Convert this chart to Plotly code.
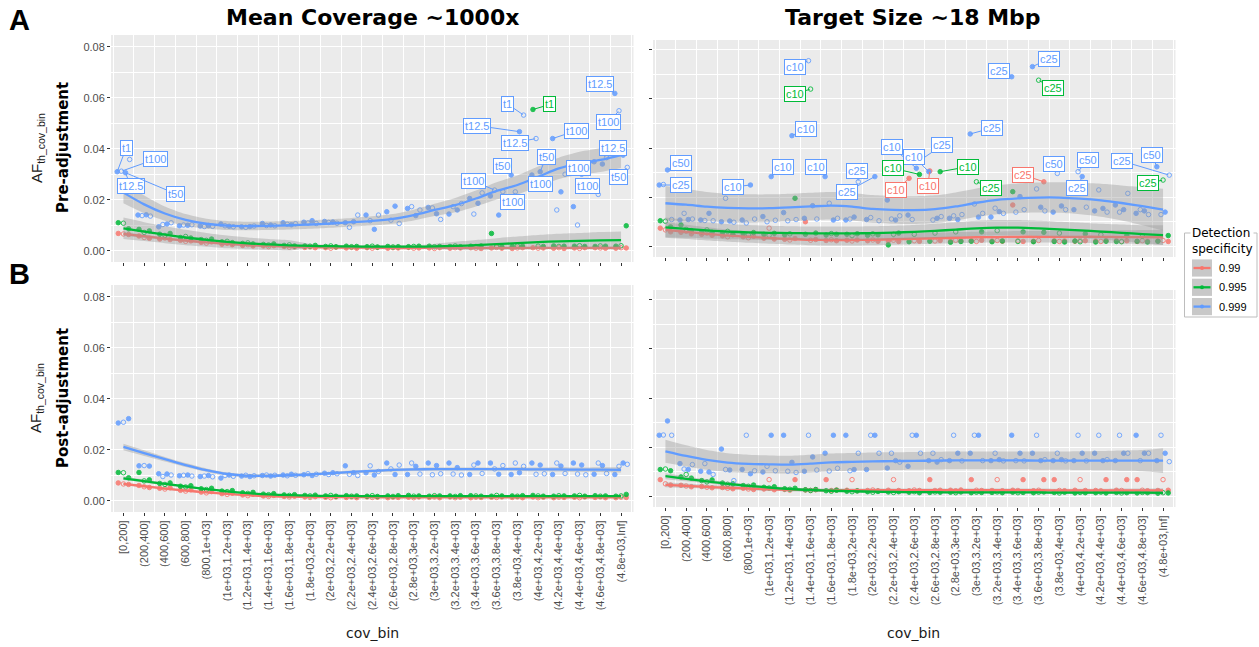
import plotly.graph_objects as go

# ---------------------------------------------------------------- data
COV_BINS = ["[0,200]", "(200,400]", "(400,600]", "(600,800]", "(800,1e+03]",
            "(1e+03,1.2e+03]", "(1.2e+03,1.4e+03]", "(1.4e+03,1.6e+03]", "(1.6e+03,1.8e+03]", "(1.8e+03,2e+03]",
            "(2e+03,2.2e+03]", "(2.2e+03,2.4e+03]", "(2.4e+03,2.6e+03]", "(2.6e+03,2.8e+03]", "(2.8e+03,3e+03]",
            "(3e+03,3.2e+03]", "(3.2e+03,3.4e+03]", "(3.4e+03,3.6e+03]", "(3.6e+03,3.8e+03]", "(3.8e+03,4e+03]",
            "(4e+03,4.2e+03]", "(4.2e+03,4.4e+03]", "(4.4e+03,4.6e+03]", "(4.6e+03,4.8e+03]", "(4.8e+03,Inf]"]
SPECIFICITY = ["0.99", "0.995", "0.999"]
COLUMN_TITLES = ["Mean Coverage ~1000x", "Target Size ~18 Mbp"]
ROW_TITLES = ["Pre-adjustment", "Post-adjustment"]

# --- Mean coverage ~1000x, pre-adjustment: AF threshold per bin (replicates)
PRE_COV_PTS_099 = [
    [0.0068, 0.0066, 0.0064], [0.0058, 0.0052, 0.0049], [0.0046, 0.0050, 0.0044], [0.0041, 0.0037, 0.0039],
    [0.0033, 0.0030, 0.0035], [0.0026, 0.0029, 0.0024], [0.0021, 0.0024, 0.0019], [0.0019, 0.0016, 0.0020],
    [0.0017, 0.0014, 0.0015], [0.0013, 0.0015, 0.0012], [0.0012, 0.0010, 0.0014], [0.0011, 0.0013, 0.0010],
    [0.0012, 0.0010, 0.0013], [0.0010, 0.0012, 0.0011], [0.0013, 0.0010, 0.0011], [0.0011, 0.0009, 0.0012],
    [0.0010, 0.0012, 0.0011], [0.0012, 0.0010, 0.0009], [0.0011, 0.0013, 0.0010], [0.0009, 0.0011, 0.0012],
    [0.0012, 0.0010, 0.0011], [0.0010, 0.0012, 0.0009], [0.0011, 0.0009, 0.0012], [0.0012, 0.0011, 0.0010],
    [0.0010, 0.0012, 0.0011]]
PRE_COV_PTS_0995 = [
    [0.0110, 0.0108, 0.0086], [0.0084, 0.0072, 0.0078], [0.0065, 0.0060, 0.0068], [0.0052, 0.0056, 0.0050],
    [0.0044, 0.0041, 0.0046], [0.0035, 0.0037, 0.0032], [0.0029, 0.0031, 0.0027], [0.0025, 0.0023, 0.0027],
    [0.0021, 0.0023, 0.0019], [0.0019, 0.0018, 0.0021], [0.0017, 0.0019, 0.0016], [0.0018, 0.0016, 0.0017],
    [0.0016, 0.0018, 0.0015], [0.0017, 0.0015, 0.0016], [0.0016, 0.0017, 0.0018], [0.0018, 0.0016, 0.0017],
    [0.0017, 0.0019, 0.0016], [0.0018, 0.0017, 0.0019], [0.0068, 0.0018, 0.0016], [0.0017, 0.0019, 0.0018],
    [0.0554, 0.0018, 0.0017], [0.0019, 0.0017, 0.0018], [0.0018, 0.0020, 0.0017], [0.0017, 0.0019, 0.0018],
    [0.0018, 0.0020, 0.0098]]
PRE_COV_PTS_0999 = [
    [0.0310, 0.0312, 0.0306, 0.0358], [0.0140, 0.0138, 0.0141, 0.0136], [0.0094, 0.0103, 0.0105, 0.0110],
    [0.0098, 0.0101, 0.0100, 0.0102], [0.0097, 0.0095, 0.0099, 0.0096], [0.0105, 0.0098, 0.0096, 0.0094],
    [0.0094, 0.0092, 0.0095, 0.0097], [0.0107, 0.0099, 0.0101, 0.0098], [0.0110, 0.0104, 0.0102, 0.0106],
    [0.0112, 0.0109, 0.0118, 0.0107], [0.0115, 0.0111, 0.0113, 0.0108], [0.0110, 0.0092, 0.0114, 0.0140],
    [0.0140, 0.0118, 0.0084, 0.0140], [0.0153, 0.0120, 0.0175, 0.0107], [0.0166, 0.0173, 0.0138, 0.0160],
    [0.0170, 0.0168, 0.0145, 0.0123], [0.0144, 0.0173, 0.0160, 0.0185], [0.0205, 0.0144, 0.0186, 0.0227],
    [0.0215, 0.0238, 0.0140, 0.0232], [0.0297, 0.0231, 0.0467, 0.0532], [0.0297, 0.0440, 0.0310, 0.0275],
    [0.0440, 0.0160, 0.0231, 0.0300], [0.0173, 0.0101, 0.0300, 0.0335], [0.0349, 0.0221, 0.0340, 0.0365],
    [0.0617, 0.0549, 0.0375, 0.0327]]
PRE_COV_FIT_099 = [0.0066, 0.0057, 0.0048, 0.0040, 0.0033, 0.0027, 0.0022, 0.0019, 0.0016, 0.0014, 0.0013, 0.0012,
                   0.0012, 0.0011, 0.0011, 0.0011, 0.0011, 0.0011, 0.0011, 0.0011, 0.0011, 0.0011, 0.0011, 0.0011, 0.0011]
PRE_COV_FIT_0995 = [0.0088, 0.0075, 0.0063, 0.0052, 0.0043, 0.0035, 0.0029, 0.0025, 0.0021, 0.0019, 0.0018, 0.0017,
                    0.0016, 0.0016, 0.0016, 0.0017, 0.0019, 0.0022, 0.0026, 0.0030, 0.0034, 0.0037, 0.0039, 0.0041, 0.0042]
PRE_COV_FIT_0999 = [0.0228, 0.0182, 0.0146, 0.0121, 0.0106, 0.0099, 0.0097, 0.0098, 0.0100, 0.0103, 0.0107, 0.0112,
                    0.0117, 0.0125, 0.0140, 0.0160, 0.0179, 0.0205, 0.0235, 0.0258, 0.0290, 0.0323, 0.0343, 0.0356, 0.0375]
PRE_COV_SE_099 = [0.0007, 0.0006, 0.0005, 0.0005, 0.0004, 0.0004, 0.0003, 0.0003, 0.0003, 0.0003, 0.0003, 0.0003,
                  0.0003, 0.0003, 0.0003, 0.0003, 0.0003, 0.0003, 0.0003, 0.0004, 0.0004, 0.0004, 0.0005, 0.0005, 0.0006]
PRE_COV_SE_0995 = [0.0042, 0.0037, 0.0033, 0.0030, 0.0027, 0.0025, 0.0023, 0.0021, 0.0020, 0.0008, 0.0006, 0.0006,
                   0.0006, 0.0006, 0.0006, 0.0010, 0.0016, 0.0020, 0.0023, 0.0026, 0.0028, 0.0030, 0.0031, 0.0033, 0.0034]
PRE_COV_SE_0999 = [0.0042, 0.0035, 0.0028, 0.0023, 0.0020, 0.0018, 0.0017, 0.0017, 0.0017, 0.0017, 0.0017, 0.0017,
                   0.0018, 0.0019, 0.0021, 0.0024, 0.0028, 0.0031, 0.0034, 0.0037, 0.0040, 0.0042, 0.0045, 0.0047, 0.0050]
# labelled replicates: (specificity, bin index, replicate index, text)
PRE_COV_LABELS = [
    ("0.999", 0, 0, "t1"), ("0.999", 0, 1, "t100"), ("0.999", 0, 2, "t12.5"), ("0.999", 0, 2, "t50"),
    ("0.999", 19, 3, "t1"), ("0.999", 19, 2, "t12.5"), ("0.999", 20, 1, "t12.5"), ("0.999", 21, 0, "t100"),
    ("0.999", 24, 1, "t100"), ("0.999", 24, 0, "t12.5"), ("0.999", 24, 2, "t12.5"), ("0.999", 24, 3, "t50"),
    ("0.999", 20, 2, "t50"), ("0.999", 19, 0, "t50"), ("0.999", 23, 0, "t100"), ("0.999", 18, 1, "t100"),
    ("0.999", 20, 0, "t100"), ("0.999", 23, 1, "t100"), ("0.999", 19, 1, "t100"), ("0.995", 20, 0, "t1")]

# --- Target size ~18 Mbp, pre-adjustment
PRE_TGT_PTS_099 = [
    [0.0075, 0.0068, 0.0060], [0.0058, 0.0062, 0.0052], [0.0050, 0.0055, 0.0046], [0.0044, 0.0040, 0.0048],
    [0.0040, 0.0036, 0.0042], [0.0034, 0.0075, 0.0031], [0.0030, 0.0027, 0.0033], [0.0101, 0.0026, 0.0029],
    [0.0025, 0.0028, 0.0024], [0.0026, 0.0023, 0.0027], [0.0024, 0.0027, 0.0022], [0.0023, 0.0026, 0.0021],
    [0.0277, 0.0024, 0.0022], [0.0307, 0.0023, 0.0025], [0.0022, 0.0026, 0.0024], [0.0024, 0.0021, 0.0026],
    [0.0023, 0.0025, 0.0022], [0.0169, 0.0024, 0.0021], [0.0022, 0.0025, 0.0263], [0.0024, 0.0021, 0.0023],
    [0.0022, 0.0025, 0.0024], [0.0023, 0.0021, 0.0025], [0.0025, 0.0022, 0.0024], [0.0021, 0.0024, 0.0022],
    [0.0023, 0.0025, 0.0021]]
PRE_TGT_PTS_0995 = [
    [0.0105, 0.0103, 0.0080], [0.0088, 0.0070, 0.0065], [0.0060, 0.0068, 0.0058], [0.0055, 0.0062, 0.0050],
    [0.0052, 0.0048, 0.0057], [0.0050, 0.0046, 0.0054], [0.0048, 0.0052, 0.0196], [0.0050, 0.0639, 0.0055],
    [0.0047, 0.0053, 0.0050], [0.0050, 0.0045, 0.0052], [0.0046, 0.0052, 0.0048], [0.0007, 0.0050, 0.0055],
    [0.0020, 0.0050, 0.0293], [0.0022, 0.0055, 0.0304], [0.0018, 0.0060, 0.0021], [0.0022, 0.0263, 0.0060],
    [0.0020, 0.0065, 0.0023], [0.0223, 0.0021, 0.0060], [0.0020, 0.0675, 0.0058], [0.0021, 0.0055, 0.0019],
    [0.0023, 0.0020, 0.0052], [0.0019, 0.0048, 0.0022], [0.0021, 0.0020, 0.0045], [0.0022, 0.0042, 0.0019],
    [0.0022, 0.0270, 0.0045]]
PRE_TGT_PTS_0999 = [
    [0.0250, 0.0252, 0.0311, 0.0110], [0.0108, 0.0135, 0.0110, 0.0112], [0.0108, 0.0106, 0.0135, 0.0105],
    [0.0101, 0.0196, 0.0104, 0.0099], [0.0108, 0.0096, 0.0250, 0.0112], [0.0122, 0.0101, 0.0284, 0.0107],
    [0.0138, 0.0105, 0.0450, 0.0110], [0.0115, 0.0754, 0.0166, 0.0112], [0.0284, 0.0176, 0.0108, 0.0115],
    [0.0108, 0.0112, 0.0120, 0.0263], [0.0110, 0.0118, 0.0284, 0.0105], [0.0189, 0.0112, 0.0108, 0.0125],
    [0.0128, 0.0110, 0.0318, 0.0351], [0.0304, 0.0108, 0.0115, 0.0122], [0.0115, 0.0125, 0.0110, 0.0130],
    [0.0457, 0.0173, 0.0120, 0.0135], [0.0120, 0.0156, 0.0142, 0.0135], [0.0689, 0.0140, 0.0203, 0.0150],
    [0.0730, 0.0234, 0.0160, 0.0145], [0.0140, 0.0297, 0.0165, 0.0150], [0.0150, 0.0304, 0.0284, 0.0160],
    [0.0145, 0.0230, 0.0155, 0.0140], [0.0169, 0.0140, 0.0150, 0.0216], [0.0135, 0.0150, 0.0145, 0.0130],
    [0.0324, 0.0130, 0.0140, 0.0290]]
PRE_TGT_FIT_099 = [0.0068, 0.0060, 0.0052, 0.0045, 0.0040, 0.0035, 0.0031, 0.0028, 0.0027, 0.0027, 0.0028, 0.0030,
                   0.0032, 0.0034, 0.0036, 0.0038, 0.0039, 0.0040, 0.0040, 0.0040, 0.0040, 0.0040, 0.0039, 0.0039, 0.0038]
PRE_TGT_FIT_0995 = [0.0078, 0.0072, 0.0066, 0.0061, 0.0058, 0.0056, 0.0055, 0.0054, 0.0054, 0.0054, 0.0055, 0.0057,
                    0.0060, 0.0064, 0.0069, 0.0074, 0.0077, 0.0077, 0.0074, 0.0070, 0.0066, 0.0061, 0.0056, 0.0051, 0.0047]
PRE_TGT_FIT_0999 = [0.0176, 0.0170, 0.0162, 0.0157, 0.0155, 0.0156, 0.0159, 0.0163, 0.0166, 0.0162, 0.0153, 0.0149,
                    0.0148, 0.0152, 0.0163, 0.0178, 0.0190, 0.0196, 0.0199, 0.0199, 0.0195, 0.0188, 0.0177, 0.0164, 0.0150]
PRE_TGT_SE_099 = [0.0032, 0.0029, 0.0027, 0.0025, 0.0024, 0.0023, 0.0022, 0.0022, 0.0022, 0.0022, 0.0022, 0.0022,
                  0.0022, 0.0022, 0.0022, 0.0022, 0.0022, 0.0023, 0.0023, 0.0024, 0.0025, 0.0026, 0.0027, 0.0029, 0.0031]
PRE_TGT_SE_0995 = [0.0040, 0.0036, 0.0033, 0.0031, 0.0030, 0.0029, 0.0028, 0.0028, 0.0028, 0.0028, 0.0028, 0.0028,
                   0.0028, 0.0029, 0.0030, 0.0031, 0.0031, 0.0031, 0.0031, 0.0031, 0.0031, 0.0032, 0.0034, 0.0036, 0.0040]
PRE_TGT_SE_0999 = [0.0070, 0.0064, 0.0060, 0.0058, 0.0057, 0.0056, 0.0056, 0.0056, 0.0056, 0.0056, 0.0056, 0.0056,
                   0.0056, 0.0056, 0.0057, 0.0058, 0.0059, 0.0060, 0.0061, 0.0062, 0.0064, 0.0067, 0.0071, 0.0077, 0.0085]
PRE_TGT_LABELS = [
    ("0.999", 0, 0, "c25"), ("0.999", 0, 2, "c50"), ("0.999", 4, 2, "c10"), ("0.999", 5, 2, "c10"),
    ("0.999", 6, 2, "c10"), ("0.999", 7, 1, "c10"), ("0.999", 8, 0, "c10"), ("0.999", 9, 3, "c25"),
    ("0.999", 10, 2, "c25"), ("0.999", 12, 2, "c10"), ("0.999", 12, 3, "c25"), ("0.999", 13, 0, "c10"),
    ("0.999", 15, 0, "c25"), ("0.999", 17, 0, "c25"), ("0.999", 18, 0, "c25"), ("0.999", 19, 1, "c50"),
    ("0.999", 20, 1, "c50"), ("0.999", 20, 2, "c25"), ("0.999", 24, 0, "c50"), ("0.999", 24, 3, "c25"),
    ("0.995", 7, 1, "c10"), ("0.995", 12, 2, "c10"), ("0.995", 13, 2, "c10"), ("0.995", 15, 1, "c25"),
    ("0.995", 18, 1, "c25"), ("0.995", 24, 1, "c25"),
    ("0.99", 12, 0, "c10"), ("0.99", 13, 0, "c10"), ("0.99", 18, 2, "c25")]

# --- Mean coverage ~1000x, post-adjustment
POST_COV_PTS_099 = [
    [0.0070, 0.0066, 0.0064], [0.0060, 0.0055, 0.0052], [0.0049, 0.0046, 0.0051], [0.0041, 0.0038, 0.0043],
    [0.0034, 0.0031, 0.0036], [0.0028, 0.0025, 0.0030], [0.0023, 0.0020, 0.0025], [0.0019, 0.0017, 0.0021],
    [0.0017, 0.0015, 0.0018], [0.0015, 0.0013, 0.0016], [0.0014, 0.0012, 0.0015], [0.0013, 0.0015, 0.0012],
    [0.0015, 0.0013, 0.0014], [0.0012, 0.0014, 0.0013], [0.0014, 0.0012, 0.0015], [0.0013, 0.0015, 0.0012],
    [0.0015, 0.0012, 0.0014], [0.0012, 0.0014, 0.0013], [0.0014, 0.0013, 0.0015], [0.0013, 0.0015, 0.0012],
    [0.0015, 0.0012, 0.0014], [0.0012, 0.0014, 0.0013], [0.0014, 0.0012, 0.0015], [0.0013, 0.0015, 0.0012],
    [0.0012, 0.0014, 0.0013]]
POST_COV_PTS_0995 = [
    [0.0111, 0.0110, 0.0090], [0.0111, 0.0078, 0.0082], [0.0068, 0.0064, 0.0070], [0.0057, 0.0054, 0.0059],
    [0.0047, 0.0044, 0.0049], [0.0038, 0.0036, 0.0040], [0.0031, 0.0029, 0.0033], [0.0026, 0.0024, 0.0028],
    [0.0023, 0.0021, 0.0024], [0.0021, 0.0019, 0.0022], [0.0019, 0.0021, 0.0018], [0.0020, 0.0018, 0.0019],
    [0.0018, 0.0020, 0.0017], [0.0019, 0.0017, 0.0020], [0.0021, 0.0018, 0.0019], [0.0018, 0.0020, 0.0019],
    [0.0019, 0.0017, 0.0020], [0.0020, 0.0019, 0.0018], [0.0018, 0.0021, 0.0019], [0.0019, 0.0018, 0.0020],
    [0.0021, 0.0019, 0.0018], [0.0018, 0.0020, 0.0019], [0.0019, 0.0021, 0.0018], [0.0020, 0.0018, 0.0019],
    [0.0018, 0.0019, 0.0025]]
POST_COV_PTS_0999 = [
    [0.0305, 0.0308, 0.0322], [0.0137, 0.0138, 0.0136], [0.0106, 0.0095, 0.0105, 0.0101],
    [0.0098, 0.0100, 0.0101, 0.0097], [0.0095, 0.0097, 0.0099, 0.0094], [0.0089, 0.0099, 0.0101, 0.0096],
    [0.0097, 0.0100, 0.0095, 0.0098], [0.0099, 0.0101, 0.0097, 0.0100], [0.0101, 0.0098, 0.0104, 0.0100],
    [0.0102, 0.0106, 0.0099, 0.0104], [0.0108, 0.0103, 0.0110, 0.0106], [0.0137, 0.0104, 0.0110, 0.0099],
    [0.0110, 0.0137, 0.0101, 0.0115], [0.0148, 0.0125, 0.0103, 0.0140], [0.0103, 0.0148, 0.0135, 0.0105],
    [0.0148, 0.0102, 0.0138, 0.0106], [0.0148, 0.0105, 0.0130, 0.0101], [0.0103, 0.0140, 0.0148, 0.0107],
    [0.0148, 0.0125, 0.0104, 0.0138], [0.0103, 0.0148, 0.0110, 0.0135], [0.0148, 0.0104, 0.0140, 0.0106],
    [0.0103, 0.0148, 0.0136, 0.0107], [0.0148, 0.0105, 0.0140, 0.0102], [0.0104, 0.0148, 0.0138, 0.0107],
    [0.0103, 0.0135, 0.0148, 0.0143]]
POST_COV_FIT_099 = [0.0066, 0.0057, 0.0048, 0.0040, 0.0033, 0.0027, 0.0022, 0.0018, 0.0016, 0.0015, 0.0014, 0.0014,
                    0.0014, 0.0013, 0.0013, 0.0013, 0.0013, 0.0013, 0.0013, 0.0013, 0.0013, 0.0013, 0.0013, 0.0013, 0.0013]
POST_COV_FIT_0995 = [0.0088, 0.0077, 0.0066, 0.0056, 0.0046, 0.0037, 0.0030, 0.0025, 0.0022, 0.0020, 0.0019, 0.0019,
                     0.0018, 0.0018, 0.0018, 0.0018, 0.0018, 0.0018, 0.0018, 0.0018, 0.0018, 0.0018, 0.0018, 0.0018, 0.0018]
POST_COV_FIT_0999 = [0.0211, 0.0187, 0.0163, 0.0140, 0.0120, 0.0105, 0.0098, 0.0098, 0.0100, 0.0103, 0.0108, 0.0113,
                     0.0117, 0.0121, 0.0123, 0.0124, 0.0124, 0.0124, 0.0124, 0.0124, 0.0123, 0.0123, 0.0122, 0.0122, 0.0121]
POST_COV_SE_099 = [0.0005, 0.0004, 0.0004, 0.0003, 0.0003, 0.0003, 0.0002, 0.0002, 0.0002, 0.0002, 0.0002, 0.0002,
                   0.0002, 0.0002, 0.0002, 0.0002, 0.0002, 0.0002, 0.0002, 0.0002, 0.0002, 0.0002, 0.0002, 0.0003, 0.0003]
POST_COV_SE_0995 = [0.0007, 0.0006, 0.0005, 0.0004, 0.0004, 0.0003, 0.0003, 0.0002, 0.0002, 0.0002, 0.0002, 0.0002,
                    0.0002, 0.0002, 0.0002, 0.0002, 0.0002, 0.0002, 0.0002, 0.0002, 0.0002, 0.0002, 0.0002, 0.0003, 0.0003]
POST_COV_SE_0999 = [0.0013, 0.0011, 0.0009, 0.0008, 0.0007, 0.0006, 0.0006, 0.0006, 0.0006, 0.0006, 0.0006, 0.0006,
                    0.0006, 0.0006, 0.0006, 0.0006, 0.0006, 0.0006, 0.0006, 0.0007, 0.0007, 0.0008, 0.0008, 0.0009, 0.0010]

# --- Target size ~18 Mbp, post-adjustment
POST_TGT_PTS_099 = [
    [0.0069, 0.0052, 0.0047], [0.0046, 0.0043, 0.0040], [0.0041, 0.0038, 0.0036], [0.0037, 0.0034, 0.0032],
    [0.0034, 0.0031, 0.0029], [0.0031, 0.0069, 0.0028], [0.0029, 0.0026, 0.0069], [0.0027, 0.0025, 0.0028],
    [0.0069, 0.0025, 0.0027], [0.0026, 0.0069, 0.0024], [0.0025, 0.0027, 0.0024], [0.0026, 0.0069, 0.0025],
    [0.0024, 0.0027, 0.0025], [0.0069, 0.0025, 0.0026], [0.0026, 0.0024, 0.0027], [0.0069, 0.0026, 0.0025],
    [0.0025, 0.0069, 0.0024], [0.0026, 0.0025, 0.0069], [0.0024, 0.0026, 0.0069], [0.0069, 0.0025, 0.0024],
    [0.0026, 0.0069, 0.0025], [0.0025, 0.0024, 0.0069], [0.0026, 0.0025, 0.0069], [0.0069, 0.0026, 0.0024],
    [0.0025, 0.0069, 0.0026]]
POST_TGT_PTS_0995 = [
    [0.0110, 0.0112, 0.0105], [0.0080, 0.0090, 0.0075], [0.0065, 0.0060, 0.0068], [0.0055, 0.0050, 0.0052],
    [0.0045, 0.0042, 0.0047], [0.0038, 0.0035, 0.0040], [0.0032, 0.0030, 0.0034], [0.0028, 0.0025, 0.0029],
    [0.0024, 0.0022, 0.0026], [0.0022, 0.0020, 0.0023], [0.0020, 0.0018, 0.0021], [0.0019, 0.0017, 0.0020],
    [0.0018, 0.0020, 0.0016], [0.0017, 0.0019, 0.0018], [0.0018, 0.0016, 0.0019], [0.0016, 0.0018, 0.0017],
    [0.0017, 0.0019, 0.0016], [0.0018, 0.0016, 0.0017], [0.0016, 0.0018, 0.0019], [0.0017, 0.0015, 0.0018],
    [0.0015, 0.0017, 0.0016], [0.0016, 0.0018, 0.0015], [0.0017, 0.0015, 0.0016], [0.0015, 0.0017, 0.0016],
    [0.0014, 0.0016, 0.0015]]
POST_TGT_PTS_0999 = [
    [0.0249, 0.0250, 0.0307, 0.0249], [0.0134, 0.0112, 0.0110, 0.0130], [0.0103, 0.0134, 0.0100, 0.0090],
    [0.0193, 0.0110, 0.0108, 0.0065], [0.0110, 0.0249, 0.0093, 0.0105], [0.0100, 0.0123, 0.0249, 0.0105],
    [0.0249, 0.0103, 0.0139, 0.0098], [0.0103, 0.0249, 0.0161, 0.0108], [0.0176, 0.0104, 0.0249, 0.0115],
    [0.0249, 0.0105, 0.0110, 0.0176], [0.0110, 0.0249, 0.0249, 0.0176], [0.0116, 0.0176, 0.0146, 0.0140],
    [0.0123, 0.0249, 0.0249, 0.0176], [0.0146, 0.0176, 0.0140, 0.0150], [0.0146, 0.0249, 0.0176, 0.0145],
    [0.0176, 0.0249, 0.0249, 0.0146], [0.0146, 0.0176, 0.0150, 0.0145], [0.0249, 0.0146, 0.0176, 0.0145],
    [0.0176, 0.0249, 0.0146, 0.0150], [0.0146, 0.0176, 0.0150, 0.0145], [0.0146, 0.0249, 0.0176, 0.0145],
    [0.0176, 0.0249, 0.0146, 0.0150], [0.0146, 0.0249, 0.0176, 0.0176], [0.0249, 0.0146, 0.0176, 0.0176],
    [0.0146, 0.0249, 0.0176, 0.0142]]
POST_TGT_FIT_099 = [0.0048, 0.0044, 0.0040, 0.0036, 0.0033, 0.0030, 0.0028, 0.0027, 0.0026, 0.0026, 0.0026, 0.0026,
                    0.0026, 0.0026, 0.0026, 0.0026, 0.0026, 0.0026, 0.0026, 0.0025, 0.0025, 0.0025, 0.0025, 0.0025, 0.0025]
POST_TGT_FIT_0995 = [0.0083, 0.0072, 0.0062, 0.0052, 0.0044, 0.0037, 0.0031, 0.0027, 0.0024, 0.0022, 0.0020, 0.0019,
                     0.0018, 0.0018, 0.0017, 0.0017, 0.0017, 0.0017, 0.0017, 0.0016, 0.0016, 0.0016, 0.0016, 0.0016, 0.0015]
POST_TGT_FIT_0999 = [0.0184, 0.0165, 0.0149, 0.0138, 0.0133, 0.0131, 0.0130, 0.0134, 0.0139, 0.0141, 0.0143, 0.0144,
                     0.0145, 0.0146, 0.0147, 0.0147, 0.0147, 0.0147, 0.0146, 0.0146, 0.0146, 0.0146, 0.0146, 0.0146, 0.0146]
POST_TGT_SE_099 = [0.0010, 0.0009, 0.0008, 0.0008, 0.0007, 0.0007, 0.0007, 0.0007, 0.0007, 0.0007, 0.0007, 0.0007,
                   0.0007, 0.0007, 0.0007, 0.0007, 0.0007, 0.0007, 0.0007, 0.0007, 0.0007, 0.0007, 0.0008, 0.0008, 0.0009]
POST_TGT_SE_0995 = [0.0012, 0.0010, 0.0009, 0.0008, 0.0007, 0.0006, 0.0006, 0.0005, 0.0005, 0.0005, 0.0005, 0.0005,
                    0.0005, 0.0005, 0.0005, 0.0005, 0.0005, 0.0005, 0.0005, 0.0005, 0.0005, 0.0005, 0.0006, 0.0006, 0.0007]
POST_TGT_SE_0999 = [0.0047, 0.0043, 0.0040, 0.0038, 0.0037, 0.0036, 0.0036, 0.0036, 0.0036, 0.0036, 0.0036, 0.0036,
                    0.0036, 0.0036, 0.0036, 0.0036, 0.0036, 0.0036, 0.0037, 0.0037, 0.0038, 0.0039, 0.0041, 0.0043, 0.0050]

# ---------------------------------------------------------------- styling
W, H = 1259, 647
COLORS = {"0.99": "#F8766D", "0.995": "#00BA38", "0.999": "#619CFF"}
RIBBON = "rgba(153,153,153,0.4)"
PANEL_BG = "#EBEBEB"
TICK_FONT = dict(family="Liberation Sans, Arial, sans-serif", size=11, color="#4D4D4D")
DODGE = {3: [-0.25, 0.0, 0.25], 4: [-0.3, -0.1, 0.1, 0.3]}
BIN_X = list(range(len(COV_BINS)))

# pixel offsets of each repelled label from its point
PRE_COV_LABEL_SHIFT = [(9, -24), (34, -12), (5, 13), (50, 21), (-16, -11), (-42, -6), (-21, 4), (24, -8),
                       (-10, 11), (-15, -9), (-10, -7), (-9, 10), (6, -15), (-9, -9), (-16, 6), (-21, -9),
                       (9, 9), (-11, -8), (-3, 10), (17, -5)]
PRE_TGT_LABEL_SHIFT = [(22, 0), (13, -7), (-17, 2), (12, -10), (14, -7), (-14, 6), (-9, -10), (-1, -11),
                       (-28, 15), (-24, -21), (22, -15), (-15, -15), (22, -6), (-13, -6), (17, -8), (-3, -9),
                       (10, -12), (-5, 11), (-5, -12), (-47, -14), (-16, 5), (-26, -6), (28, -5), (15, 6),
                       (14, 8), (-15, 3), (-13, 12), (-2, 15), (-21, -7)]


def px(x):
    return x / W


def py(y):
    return 1 - y / H


PANELS = [
    dict(ax="", pts={"0.99": PRE_COV_PTS_099, "0.995": PRE_COV_PTS_0995, "0.999": PRE_COV_PTS_0999},
         fit={"0.99": PRE_COV_FIT_099, "0.995": PRE_COV_FIT_0995, "0.999": PRE_COV_FIT_0999},
         se={"0.99": PRE_COV_SE_099, "0.995": PRE_COV_SE_0995, "0.999": PRE_COV_SE_0999},
         labels=PRE_COV_LABELS, shift=PRE_COV_LABEL_SHIFT,
         xdom=[px(111), px(633.5)], ydom=[py(262), py(35)], yrange=[-0.0044, 0.0846],
         ylabels=True, xlabels=False),
    dict(ax="2", pts={"0.99": PRE_TGT_PTS_099, "0.995": PRE_TGT_PTS_0995, "0.999": PRE_TGT_PTS_0999},
         fit={"0.99": PRE_TGT_FIT_099, "0.995": PRE_TGT_FIT_0995, "0.999": PRE_TGT_FIT_0999},
         se={"0.99": PRE_TGT_SE_099, "0.995": PRE_TGT_SE_0995, "0.999": PRE_TGT_SE_0999},
         labels=PRE_TGT_LABELS, shift=PRE_TGT_LABEL_SHIFT,
         xdom=[px(653), px(1175.5)], ydom=[py(257), py(40)], yrange=[-0.0042, 0.0838],
         ylabels=False, xlabels=False),
    dict(ax="3", pts={"0.99": POST_COV_PTS_099, "0.995": POST_COV_PTS_0995, "0.999": POST_COV_PTS_0999},
         fit={"0.99": POST_COV_FIT_099, "0.995": POST_COV_FIT_0995, "0.999": POST_COV_FIT_0999},
         se={"0.99": POST_COV_SE_099, "0.995": POST_COV_SE_0995, "0.999": POST_COV_SE_0999},
         labels=[], shift=[],
         xdom=[px(111), px(633.5)], ydom=[py(512), py(285)], yrange=[-0.0044, 0.0846],
         ylabels=True, xlabels=True),
    dict(ax="4", pts={"0.99": POST_TGT_PTS_099, "0.995": POST_TGT_PTS_0995, "0.999": POST_TGT_PTS_0999},
         fit={"0.99": POST_TGT_FIT_099, "0.995": POST_TGT_FIT_0995, "0.999": POST_TGT_FIT_0999},
         se={"0.99": POST_TGT_SE_099, "0.995": POST_TGT_SE_0995, "0.999": POST_TGT_SE_0999},
         labels=[], shift=[],
         xdom=[px(653), px(1175.5)], ydom=[py(507), py(290)], yrange=[-0.0042, 0.0838],
         ylabels=False, xlabels=True),
]

fig = go.Figure()
annotations = []
layout_axes = {}

for p in PANELS:
    xa, ya = "x" + p["ax"], "y" + p["ax"]
    # points, one layer per specificity
    for s in SPECIFICITY:
        xs, ys, syms = [], [], []
        for b, vals in enumerate(p["pts"][s]):
            offs = DODGE[4] if len(vals) > 3 else DODGE[3]
            for k, v in enumerate(vals):
                xs.append(b + offs[k])
                ys.append(v)
                syms.append("circle" if k % 2 == 0 else "circle-open")
        fig.add_trace(go.Scatter(
            x=xs, y=ys, xaxis=xa, yaxis=ya, mode="markers", showlegend=False, hoverinfo="skip",
            marker=dict(color=COLORS[s], size=4.5, symbol=syms, opacity=0.85,
                        line=dict(color=COLORS[s], width=1))))
    # smoothed fit with confidence band
    for s in SPECIFICITY:
        fit, se = p["fit"][s], p["se"][s]
        lo = [f - e for f, e in zip(fit, se)]
        hi = [f + e for f, e in zip(fit, se)]
        fig.add_trace(go.Scatter(x=BIN_X, y=lo, xaxis=xa, yaxis=ya, mode="lines", showlegend=False,
                                 hoverinfo="skip", line=dict(width=0, shape="spline", smoothing=0.8)))
        fig.add_trace(go.Scatter(x=BIN_X, y=hi, xaxis=xa, yaxis=ya, mode="lines", showlegend=False,
                                 hoverinfo="skip", fill="tonexty", fillcolor=RIBBON,
                                 line=dict(width=0, shape="spline", smoothing=0.8)))
        fig.add_trace(go.Scatter(x=BIN_X, y=fit, xaxis=xa, yaxis=ya, mode="lines", showlegend=False,
                                 hoverinfo="skip",
                                 line=dict(color=COLORS[s], width=2.3, shape="spline", smoothing=0.8)))
    # repelled labels
    for (s, b, k, txt), (dx, dy) in zip(p["labels"], p["shift"]):
        vals = p["pts"][s][b]
        offs = DODGE[4] if len(vals) > 3 else DODGE[3]
        annotations.append(dict(
            x=b + offs[k], y=vals[k], xref=xa, yref=ya, text=txt, showarrow=True,
            ax=dx, ay=dy, arrowhead=0, arrowwidth=1, arrowcolor=COLORS[s], standoff=1,
            font=dict(family="Liberation Sans, Arial, sans-serif", size=11, color=COLORS[s]),
            bgcolor="white", bordercolor=COLORS[s], borderwidth=1, borderpad=1))

    xkey = "xaxis" + p["ax"]
    ykey = "yaxis" + p["ax"]
    layout_axes[xkey] = dict(
        domain=p["xdom"], anchor=ya, range=[-0.6, 24.6], tickmode="array", tickvals=BIN_X,
        ticktext=COV_BINS, showticklabels=p["xlabels"], tickangle=-90, tickfont=TICK_FONT,
        ticks="outside", ticklen=3, tickwidth=1, tickcolor="#333333", showgrid=False,
        zeroline=False, showline=False,
        minor=dict(tickmode="linear", tick0=0.5, dtick=1, showgrid=True, gridcolor="white",
                   gridwidth=1.1, ticks=""))
    layout_axes[ykey] = dict(
        domain=p["ydom"], anchor=xa, range=p["yrange"], tickmode="array",
        tickvals=[0, 0.02, 0.04, 0.06, 0.08], ticktext=["0.00", "0.02", "0.04", "0.06", "0.08"],
        showticklabels=p["ylabels"], tickfont=TICK_FONT, ticks="outside", ticklen=3, tickwidth=1,
        tickcolor="#333333", showgrid=True, gridcolor="white", gridwidth=1.1, zeroline=False,
        showline=False,
        minor=dict(tickmode="array", tickvals=[0.01, 0.03, 0.05, 0.07], showgrid=True,
                   gridcolor="white", gridwidth=0.5, ticks=""))

# ---------------------------------------------------------------- page text
TITLE_FONT = dict(family="DejaVu Sans, sans-serif", size=22, color="black")
annotations += [
    dict(x=px(372), y=py(18), text="<b>" + COLUMN_TITLES[0] + "</b>", font=TITLE_FONT),
    dict(x=px(913), y=py(18), text="<b>" + COLUMN_TITLES[1] + "</b>", font=TITLE_FONT),
    dict(x=px(19), y=py(20), text="<b>A</b>",
         font=dict(family="Liberation Sans, Arial, sans-serif", size=29, color="black")),
    dict(x=px(19), y=py(274), text="<b>B</b>",
         font=dict(family="Liberation Sans, Arial, sans-serif", size=29, color="black")),
    dict(x=px(372), y=py(633), text="cov_bin",
         font=dict(family="DejaVu Sans, sans-serif", size=14, color="#1A1A1A")),
    dict(x=px(913), y=py(633), text="cov_bin",
         font=dict(family="DejaVu Sans, sans-serif", size=14, color="#1A1A1A")),
]
for row, yc in zip(ROW_TITLES, [148, 398]):
    annotations.append(dict(x=px(37), y=py(yc), text="AF<sub>th_cov_bin</sub>", textangle=-90,
                            font=dict(family="Liberation Sans, Arial, sans-serif", size=15, color="#1A1A1A")))
    annotations.append(dict(x=px(63), y=py(yc), text="<b>" + row + "</b>", textangle=-90,
                            font=dict(family="DejaVu Sans, sans-serif", size=15, color="black")))

# ---------------------------------------------------------------- legend
shapes = [dict(type="rect", xref="paper", yref="paper", x0=px(1184.5), x1=px(1257), y0=py(317), y1=py(233),
               line=dict(color="#BDBDBD", width=1), fillcolor="white", layer="below")]
annotations.append(dict(x=px(1190), y=py(224), xanchor="left", yanchor="top", align="left",
                        text="Detection<br>specificity", bgcolor="white",
                        font=dict(family="DejaVu Sans, sans-serif", size=12, color="black")))
for i, s in enumerate(SPECIFICITY):
    yc = 268 + 19.3 * i
    shapes.append(dict(type="rect", xref="paper", yref="paper", x0=px(1192), x1=px(1212),
                       y0=py(yc + 8.6), y1=py(yc - 8.6), line=dict(width=0), fillcolor="#C8C8C8"))
    shapes.append(dict(type="line", xref="paper", yref="paper", x0=px(1193.5), x1=px(1210.5),
                       y0=py(yc), y1=py(yc), line=dict(color=COLORS[s], width=2.3)))
    shapes.append(dict(type="circle", xref="paper", yref="paper", x0=px(1200), x1=px(1204),
                       y0=py(yc + 2), y1=py(yc - 2), line=dict(color=COLORS[s], width=0),
                       fillcolor=COLORS[s]))
    annotations.append(dict(x=px(1217), y=py(yc), xanchor="left", text=s,
                            font=dict(family="Liberation Sans, Arial, sans-serif", size=11, color="black")))

for a in annotations:
    a.setdefault("xref", "paper")
    a.setdefault("yref", "paper")
    a.setdefault("showarrow", False)
    if a["xref"] == "paper":
        a.setdefault("xanchor", "center")
        a.setdefault("yanchor", "middle")

fig.update_layout(
    width=W, height=H, autosize=False, margin=dict(l=0, r=0, t=0, b=0),
    paper_bgcolor="white", plot_bgcolor=PANEL_BG, showlegend=False,
    annotations=annotations, shapes=shapes, **layout_axes)

fig.write_html("out.html")
